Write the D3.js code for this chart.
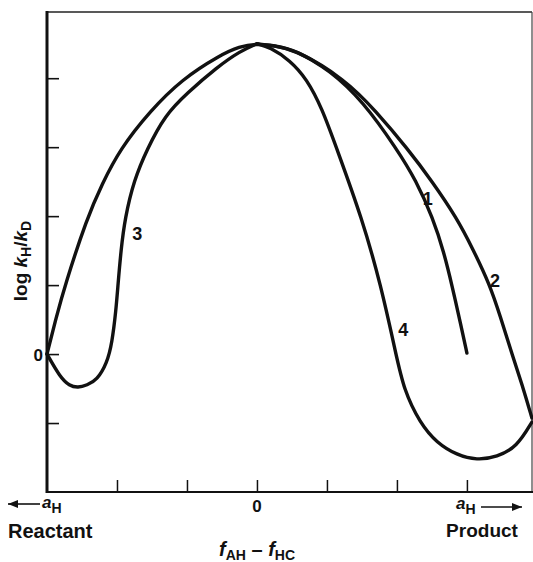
<!DOCTYPE html>
<html>
<head>
<meta charset="utf-8">
<script src="https://cdn.jsdelivr.net/npm/d3@7"></script>
<style>
  body { margin: 0; background: #fff; }
  svg { display: block; }
  text { font-family: "Liberation Sans", Arial, sans-serif; font-weight: bold; fill: #111; }
</style>
</head>
<body>
<svg id="chart" width="533" height="562"></svg>
<script>
// ---- data (x: f_AH - f_HC in tick units, y: log kH/kD in tick units) ----
const xTicks = [-2, -1, 0, 1, 2, 3];
const yTicks = [-1, 0, 1, 2, 3, 4];

const curve2 = [
  [-3, 0], [-2.871, 0.522], [-2.743, 1.0], [-2.429, 1.971], [-2.214, 2.464], [-1.957, 2.971],
  [-1.529, 3.522], [-1.071, 3.986], [-0.529, 4.333], [-0.25, 4.46], [0, 4.5], [0.25, 4.47],
  [0.543, 4.42], [1.257, 3.986], [1.7, 3.522], [2.157, 2.971], [2.5, 2.507], [2.857, 1.971],
  [3.086, 1.522], [3.329, 1.0], [3.471, 0.565], [3.657, -0.043], [3.8, -0.478], [3.929, -0.928]
];
const curve1 = [
  [0, 4.5], [0.25, 4.47], [0.543, 4.41], [1.043, 4.116], [1.514, 3.667], [2.0, 2.971], [2.271, 2.522],
  [2.514, 1.971], [2.671, 1.478], [2.786, 1.0], [2.914, 0.42], [3.0, 0.014]
];
const curve3 = [
  [-3, 0], [-2.814, -0.333], [-2.68, -0.46], [-2.557, -0.49], [-2.43, -0.45], [-2.286, -0.377],
  [-2.143, -0.13], [-2.071, 0.159], [-2.014, 0.638], [-1.986, 1.0], [-1.943, 1.507], [-1.886, 1.971],
  [-1.757, 2.522], [-1.571, 2.971], [-1.314, 3.464], [-1.0, 3.783], [-0.571, 4.159], [-0.243, 4.391],
  [0, 4.5]
];
const curve4 = [
  [0, 4.5], [0.186, 4.449], [0.471, 4.261], [0.714, 3.986], [0.929, 3.565], [1.143, 2.971],
  [1.5, 1.971], [1.771, 1.0], [1.986, 0], [2.1, -0.522], [2.329, -1.0], [2.571, -1.29],
  [2.857, -1.464], [3.143, -1.54], [3.429, -1.493], [3.714, -1.348], [3.929, -0.986]
];
const curveLabels = [
  { name: "1", x: 2.44, y: 2.25 },
  { name: "2", x: 3.4, y: 1.07 },
  { name: "3", x: -1.71, y: 1.75 },
  { name: "4", x: 2.09, y: 0.35 }
];

// ---- layout ----
const svg = d3.select("#chart");
const X0 = 47, X1 = 532, Y0 = 492, Y1 = 12;
const x = d3.scaleLinear().domain([-3, 3.93]).range([X0, X1]);
const y = d3.scaleLinear().domain([-2, 4.96]).range([Y0, Y1]);

// frame
svg.append("line").attr("x1", X0).attr("x2", X1).attr("y1", Y1).attr("y2", Y1)
  .attr("stroke", "#222").attr("stroke-width", 1.6);
svg.append("line").attr("x1", X1).attr("x2", X1).attr("y1", Y1).attr("y2", Y0)
  .attr("stroke", "#444").attr("stroke-width", 1.2);

// axes
const yAxis = d3.axisRight(y).tickValues(yTicks).tickSize(12).tickFormat("");
const gy = svg.append("g").attr("transform", `translate(${X0},0)`).call(yAxis);
gy.select(".domain").remove();
gy.selectAll(".tick line").attr("stroke", "#111").attr("stroke-width", 1.6);

const xAxis = d3.axisTop(x).tickValues(xTicks).tickSize(12).tickFormat("");
const gx = svg.append("g").attr("transform", `translate(0,${Y0})`).call(xAxis);
gx.select(".domain").remove();
gx.selectAll(".tick line").attr("stroke", "#111").attr("stroke-width", 1.5);

svg.append("line").attr("x1", X0).attr("x2", X1 + 1).attr("y1", Y0).attr("y2", Y0)
  .attr("stroke", "#111").attr("stroke-width", 2.2);
svg.append("line").attr("x1", X0).attr("x2", X0).attr("y1", Y1 - 1).attr("y2", Y0 + 1)
  .attr("stroke", "#111").attr("stroke-width", 3);

// tick labels
svg.append("text").attr("x", X0 - 4).attr("y", y(0) + 6.5).attr("text-anchor", "end")
  .attr("font-size", 17).text("0");
svg.append("text").attr("x", x(0)).attr("y", Y0 + 20).attr("text-anchor", "middle")
  .attr("font-size", 17).text("0");

// curves
const line = d3.line().x(d => x(d[0])).y(d => y(d[1])).curve(d3.curveBasis);
[curve2, curve1, curve3, curve4].forEach(c => {
  svg.append("path").attr("d", line(c)).attr("fill", "none")
    .attr("stroke", "#111").attr("stroke-width", 3.4)
    .attr("stroke-linecap", "round").attr("stroke-linejoin", "round");
});

// curve labels
svg.selectAll(".clab").data(curveLabels).enter().append("text")
  .attr("class", "clab")
  .attr("x", d => x(d.x)).attr("y", d => y(d.y) + 6.5)
  .attr("text-anchor", "middle").attr("font-size", 18).text(d => d.name);

// y axis title
const yt = svg.append("text").attr("transform", "translate(27,261) rotate(-90)")
  .attr("text-anchor", "middle").attr("font-size", 19);
yt.append("tspan").text("log ");
yt.append("tspan").attr("font-style", "italic").text("k");
yt.append("tspan").attr("font-size", 14).attr("dy", 4).text("H");
yt.append("tspan").attr("dy", -4).text("/");
yt.append("tspan").attr("font-style", "italic").text("k");
yt.append("tspan").attr("font-size", 14).attr("dy", 4).text("D");

// arrows
function arrow(x1, x2, yy) {
  svg.append("line").attr("x1", x1).attr("x2", x2).attr("y1", yy).attr("y2", yy)
    .attr("stroke", "#111").attr("stroke-width", 1.6);
  const dir = Math.sign(x2 - x1);
  svg.append("path")
    .attr("d", `M${x2},${yy} L${x2 - dir * 10},${yy - 4} L${x2 - dir * 10},${yy + 4} Z`)
    .attr("fill", "#111");
}
// left end annotation
arrow(40, 8, 504);
const la = svg.append("text").attr("x", 42).attr("y", 508).attr("font-size", 17);
la.append("tspan").attr("font-style", "italic").text("a");
la.append("tspan").attr("font-size", 14).attr("dy", 5).text("H");
svg.append("text").attr("x", 8).attr("y", 538).attr("font-size", 20).text("Reactant");

// right end annotation
const ra = svg.append("text").attr("x", 456).attr("y", 509).attr("font-size", 17);
ra.append("tspan").attr("font-style", "italic").text("a");
ra.append("tspan").attr("font-size", 14).attr("dy", 5).text("H");
arrow(481, 522, 507);
svg.append("text").attr("x", 482).attr("y", 537).attr("text-anchor", "middle")
  .attr("font-size", 19).text("Product");

// x axis title
const xt = svg.append("text").attr("x", 257).attr("y", 556).attr("text-anchor", "middle")
  .attr("font-size", 20);
xt.append("tspan").attr("font-style", "italic").text("f");
xt.append("tspan").attr("font-size", 14).attr("dy", 4).text("AH");
xt.append("tspan").attr("dy", -4).text(" \u2013 ");
xt.append("tspan").attr("font-style", "italic").text("f");
xt.append("tspan").attr("font-size", 14).attr("dy", 4).text("HC");
</script>
</body>
</html>
